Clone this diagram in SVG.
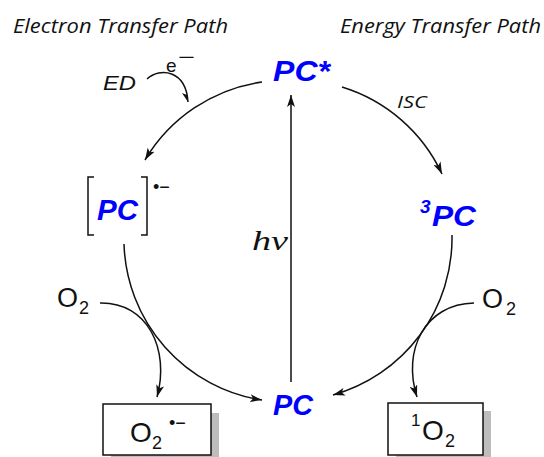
<svg xmlns="http://www.w3.org/2000/svg" width="544" height="457" viewBox="0 0 544 457">
<style>
.t{font-family:"Open Sans","Liberation Sans",sans-serif;font-style:italic;fill:#111}
.pc{font-family:"Liberation Sans",Arial,sans-serif;font-weight:bold;font-style:italic;fill:#0000ff}
.r{font-family:"Liberation Sans",Arial,sans-serif;fill:#111}
.i{font-family:"Liberation Sans",Arial,sans-serif;font-style:italic;fill:#111}
.ln{fill:none;stroke:#111;stroke-width:1.5}
.box{fill:#fff;stroke:#111;stroke-width:1.5}
.sh{fill:#bdbdbd}
</style>
<defs>
<marker id="ah" markerUnits="userSpaceOnUse" viewBox="0 0 12 8" refX="12" refY="4" markerWidth="12" markerHeight="8" orient="auto">
<path d="M0,0 L12,4 L0,8 L3,4 z" fill="#111"/>
</marker>
</defs>
<rect width="544" height="457" fill="#fff"/>
<text class="t" x="13" y="33" font-size="20" textLength="215" lengthAdjust="spacingAndGlyphs">Electron Transfer Path</text>
<text class="t" x="340" y="33" font-size="20" textLength="201" lengthAdjust="spacingAndGlyphs">Energy Transfer Path</text>
<g id="connectors">
<path class="ln" d="M262,82 A163,163 0 0 0 145,160" marker-end="url(#ah)"/>
<path class="ln" d="M342,87 A163,163 0 0 1 442,174" marker-end="url(#ah)"/>
<path class="ln" d="M452,235 A163,163 0 0 1 333,395" marker-end="url(#ah)"/>
<path class="ln" d="M124,244 A163,163 0 0 0 262,400" marker-end="url(#ah)"/>
<path class="ln" d="M291,382 L291,95" marker-end="url(#ah)"/>
<path class="ln" d="M100,303 C148,302 170,350 157,397" marker-end="url(#ah)"/>
<path class="ln" d="M474,303 C425,304 402,350 417,397" marker-end="url(#ah)"/>
<path class="ln" d="M147,79 C160,67 186,70 188,102"/>
<path d="M188,102 L182,93 L187,95 z" fill="#111"/>
</g>
<g id="pcstar"><text class="pc" x="273" y="81" font-size="30" textLength="57" lengthAdjust="spacingAndGlyphs">PC*</text></g>
<g id="pcrad">
<path class="ln" d="M94,177 L88,177 L88,235 L94,235"/>
<path class="ln" d="M141,177 L147,177 L147,235 L141,235"/>
<text class="pc" x="97" y="220" font-size="29" textLength="41" lengthAdjust="spacingAndGlyphs">PC</text>
<text class="r" x="153" y="193" font-size="18">•−</text>
</g>
<g id="pc3">
<text class="pc" x="420" y="213" font-size="19">3</text>
<text class="pc" x="432" y="226" font-size="29" textLength="44" lengthAdjust="spacingAndGlyphs">PC</text>
</g>
<g id="pc"><text class="pc" x="273" y="415" font-size="29" textLength="40" lengthAdjust="spacingAndGlyphs">PC</text></g>
<g id="hv"><text font-family="'Liberation Serif',serif" font-style="italic" x="252" y="250" font-size="27" fill="#111" textLength="36" lengthAdjust="spacingAndGlyphs">hν</text></g>
<g id="isc"><text class="t" x="397" y="108" font-size="16" textLength="30" lengthAdjust="spacingAndGlyphs">ISC</text></g>
<g id="ed">
<text class="i" x="103" y="90" font-size="21" textLength="33" lengthAdjust="spacingAndGlyphs">ED</text>
<text class="r" x="166" y="72" font-size="19">e</text>
<text class="r" x="178" y="64" font-size="20" textLength="17" lengthAdjust="spacingAndGlyphs">−</text>
</g>
<g id="o2left">
<text class="r" x="57" y="307" font-size="27">O</text>
<text class="r" x="79" y="314" font-size="18">2</text>
</g>
<g id="o2right">
<text class="r" x="482" y="308" font-size="27">O</text>
<text class="r" x="506" y="315" font-size="18">2</text>
</g>
<g id="superoxide">
<rect class="sh" x="111" y="413" width="108" height="51"/>
<rect class="box" x="103" y="404" width="108" height="51"/>
<text class="r" x="130" y="442" font-size="28">O</text>
<text class="r" x="152" y="449" font-size="18">2</text>
<text class="r" x="169" y="429" font-size="18">•−</text>
</g>
<g id="singlet">
<rect class="sh" x="396" y="411" width="95" height="52"/>
<rect class="box" x="388" y="403" width="95" height="52"/>
<text class="r" x="411" y="426" font-size="17">1</text>
<text class="r" x="422" y="440" font-size="28">O</text>
<text class="r" x="445" y="447" font-size="18">2</text>
</g>
</svg>
